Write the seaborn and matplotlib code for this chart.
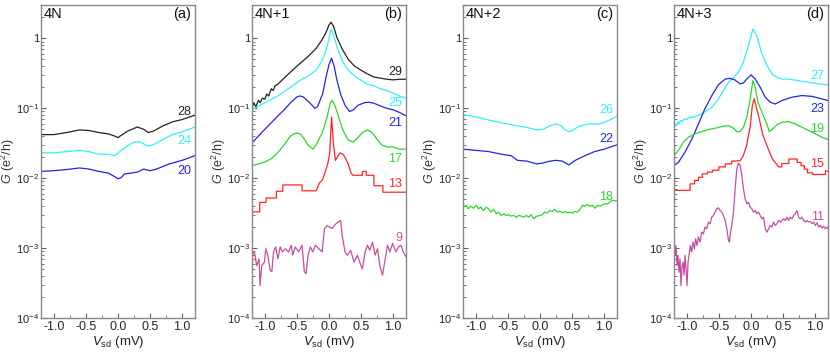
import numpy as np
import pandas as pd
import matplotlib
matplotlib.use("Agg")
import matplotlib.pyplot as plt
import matplotlib.transforms as mtransforms
from matplotlib.ticker import FixedLocator, FixedFormatter, MultipleLocator, LogLocator, NullFormatter, FormatStrFormatter
import seaborn as sns

# ---------------- data ----------------
# panel (a) 4N
a28_v = [-1.2,-1.0,-0.8,-0.6,-0.45,-0.3,-0.15,-0.05,0.0,0.05,0.15,0.3,0.4,0.47,0.55,0.7,0.85,1.0,1.2]
a28_g = [0.042,0.042,0.045,0.049,0.048,0.045,0.043,0.040,0.038,0.041,0.047,0.054,0.050,0.045,0.047,0.056,0.064,0.069,0.080]
a24_v = [-1.2,-1.0,-0.8,-0.6,-0.45,-0.3,-0.15,-0.05,0.05,0.15,0.25,0.35,0.45,0.55,0.7,0.85,1.0,1.2]
a24_g = [0.023,0.023,0.024,0.025,0.024,0.022,0.022,0.021,0.025,0.029,0.033,0.033,0.029,0.030,0.036,0.042,0.046,0.054]
a20_v = [-1.2,-1.0,-0.8,-0.6,-0.45,-0.3,-0.15,-0.05,0.0,0.05,0.1,0.2,0.3,0.4,0.5,0.6,0.8,1.0,1.2]
a20_g = [0.0125,0.0128,0.0133,0.014,0.0135,0.0125,0.0118,0.0105,0.0098,0.0102,0.0115,0.0118,0.0122,0.0135,0.0128,0.0135,0.016,0.018,0.021]

# panel (b) 4N+1
b29_v = [-1.2,-1.17,-1.14,-1.1,-1.07,-1.04,-1.0,-0.97,-0.94,-0.9,
         -0.87,-0.84,-0.8,-0.7,-0.6,-0.5,-0.4,-0.3,-0.2,-0.1,
         -0.05,0.0,0.03,0.07,0.12,0.2,0.3,0.4,0.5,0.6,
         0.7,0.8,0.9,1.0,1.1,1.2]
b29_g = [0.10,0.12,0.105,0.13,0.12,0.14,0.135,0.16,0.15,0.19,
         0.18,0.21,0.22,0.27,0.33,0.40,0.48,0.58,0.72,0.98,
         1.2,1.55,1.7,1.5,1.05,0.72,0.50,0.40,0.35,0.31,
         0.28,0.27,0.26,0.255,0.26,0.26]
b25_v = [-1.2,-1.0,-0.8,-0.6,-0.45,-0.3,-0.2,-0.1,-0.03,0.0,
         0.03,0.06,0.1,0.15,0.22,0.3,0.4,0.5,0.6,0.7,
         0.8,0.9,1.0,1.1,1.2]
b25_g = [0.095,0.12,0.15,0.20,0.25,0.30,0.35,0.5,0.75,1.0,
         1.35,1.2,0.9,0.65,0.45,0.35,0.29,0.25,0.22,0.21,
         0.19,0.18,0.165,0.15,0.14]
b21_v = [-1.2,-1.1,-1.0,-0.9,-0.8,-0.7,-0.6,-0.5,-0.45,-0.4,
         -0.3,-0.22,-0.18,-0.1,-0.05,0.0,0.04,0.08,0.12,0.18,
         0.25,0.32,0.38,0.45,0.55,0.62,0.7,0.8,0.9,1.0,
         1.1,1.2]
b21_g = [0.032,0.04,0.05,0.062,0.077,0.095,0.12,0.145,0.15,0.145,
         0.12,0.10,0.105,0.16,0.27,0.42,0.52,0.40,0.26,0.16,
         0.11,0.09,0.095,0.11,0.12,0.122,0.118,0.108,0.10,0.095,
         0.087,0.078]
b17_v = [-1.2,-1.1,-1.0,-0.9,-0.8,-0.7,-0.6,-0.55,-0.5,-0.45,
         -0.4,-0.33,-0.25,-0.2,-0.1,-0.03,0.02,0.05,0.1,0.15,
         0.22,0.3,0.38,0.45,0.52,0.6,0.67,0.75,0.82,0.9,
         1.0,1.1,1.2]
b17_g = [0.015,0.016,0.017,0.019,0.023,0.030,0.040,0.043,0.044,0.043,
         0.038,0.030,0.026,0.030,0.046,0.075,0.12,0.13,0.105,0.075,
         0.048,0.035,0.033,0.038,0.045,0.049,0.045,0.036,0.030,0.028,
         0.028,0.026,0.026]
b13_v = [-1.2,-1.08,-1.08,-0.98,-0.98,-0.82,-0.82,-0.72,-0.72,-0.42,
         -0.42,-0.2,-0.15,-0.1,-0.05,-0.02,0.01,0.04,0.07,0.1,
         0.13,0.17,0.22,0.26,0.3,0.34,0.37,0.52,0.52,0.58,
         0.58,0.7,0.7,0.84,0.84,1.2]
b13_g = [0.0033,0.0033,0.0045,0.0045,0.0052,0.0052,0.0065,0.0065,0.008,0.008,
         0.0066,0.0066,0.0085,0.0095,0.013,0.016,0.022,0.075,0.03,0.018,
         0.02,0.023,0.022,0.019,0.016,0.012,0.011,0.011,0.0125,0.0125,
         0.011,0.011,0.0078,0.0078,0.0063,0.0063]
b9_v = [-1.2,-1.163,-1.127,-1.09,-1.074,-1.048,-1.006,-0.985,-0.954,-0.917,
        -0.891,-0.865,-0.829,-0.797,-0.761,-0.724,-0.682,-0.63,-0.588,-0.567,
        -0.525,-0.473,-0.421,-0.384,-0.358,-0.327,-0.29,-0.253,-0.212,-0.159,
        -0.107,-0.07,-0.029,0.008,0.05,0.102,0.155,0.181,0.207,0.249,
        0.285,0.337,0.39,0.442,0.479,0.52,0.562,0.599,0.636,0.677,
        0.719,0.756,0.792,0.834,0.876,0.913,0.949,0.991,1.043,1.085,
        1.122,1.158,1.2]
b9_g = [0.00079,0.00088,0.00056,0.0007,0.00029,0.00056,0.00063,0.00098,0.00079,0.00048,
        0.00046,0.00088,0.00104,0.0007,0.00104,0.00088,0.00098,0.00088,0.0011,0.00079,
        0.00104,0.00088,0.0011,0.00046,0.00043,0.00079,0.00104,0.00088,0.0011,0.00098,
        0.00088,0.0019,0.0021,0.002,0.0019,0.0022,0.0024,0.00248,0.0015,0.00088,
        0.00079,0.00093,0.00063,0.00079,0.00063,0.0005,0.00088,0.0011,0.00093,0.00122,
        0.00079,0.00098,0.00056,0.00041,0.0007,0.0011,0.00088,0.00117,0.00088,0.00104,
        0.0011,0.00088,0.00075]

# panel (c) 4N+2
c26_v = [-1.2,-1.0,-0.8,-0.6,-0.4,-0.2,-0.05,0.05,0.15,0.25,0.32,0.38,0.45,0.52,0.6,0.7,0.8,0.9,1.0,1.1,1.2]
c26_g = [0.081,0.075,0.068,0.062,0.057,0.053,0.049,0.050,0.056,0.060,0.057,0.050,0.046,0.049,0.055,0.058,0.060,0.059,0.063,0.069,0.077]
c22_v = [-1.2,-1.0,-0.8,-0.6,-0.45,-0.35,-0.2,-0.05,0.05,0.15,0.25,0.35,0.45,0.55,0.7,0.85,1.0,1.2]
c22_g = [0.026,0.025,0.024,0.022,0.021,0.018,0.0175,0.016,0.0165,0.0175,0.018,0.0175,0.0155,0.018,0.021,0.024,0.026,0.030]
c18_v = [-1.2,-1.153,-1.116,-1.079,-1.038,-0.996,-0.959,-0.922,-0.881,-0.839,
         -0.802,-0.766,-0.724,-0.682,-0.645,-0.609,-0.567,-0.525,-0.489,-0.452,
         -0.41,-0.368,-0.332,-0.295,-0.253,-0.212,-0.175,-0.138,-0.096,-0.07,
         -0.044,-0.002,0.034,0.071,0.113,0.155,0.191,0.228,0.27,0.311,
         0.348,0.385,0.426,0.468,0.505,0.542,0.583,0.625,0.662,0.698,
         0.74,0.782,0.819,0.855,0.897,0.939,0.975,1.012,1.054,1.096,
         1.132,1.169,1.2]
c18_g = [0.00385,0.0041,0.00365,0.00398,0.00372,0.0041,0.00365,0.00385,0.00345,0.00385,
         0.00365,0.00327,0.00358,0.00309,0.00327,0.00293,0.00309,0.00293,0.003,0.00287,
         0.00293,0.00277,0.00293,0.00287,0.00277,0.00293,0.00277,0.003,0.00263,0.00277,
         0.00287,0.00293,0.003,0.00327,0.00316,0.00345,0.00333,0.00358,0.00327,0.00336,
         0.0032,0.00333,0.0032,0.00327,0.00316,0.00333,0.00327,0.00358,0.0041,0.00398,
         0.0042,0.00398,0.0041,0.00372,0.0041,0.00398,0.0042,0.0043,0.0043,0.00465,
         0.0048,0.00474,0.0048]

# panel (d) 4N+3
d27_v = [-1.2,-1.18,-1.16,-1.14,-1.12,-1.1,-1.07,-1.04,-1.0,-0.96,-0.92,
         -0.77,-0.61,-0.51,-0.43,-0.35,-0.27,-0.2,-0.12,-0.04,0.03,
         0.09,0.17,0.25,0.33,0.4,0.48,0.59,0.74,0.9,1.05,1.2]
d27_g = [0.0535,0.0597,0.0565,0.0645,0.0597,0.0667,0.0645,0.0704,0.069,0.074,0.0735,
         0.083,0.103,0.136,0.179,0.235,0.277,0.327,0.454,0.786,1.36,
         1.09,0.597,0.407,0.31,0.277,0.262,0.262,0.248,0.235,0.223,0.216]
d23_v = [-1.2,-1.13,-1.03,-0.92,-0.82,-0.72,-0.61,-0.51,-0.4,-0.33,
         -0.25,-0.17,-0.12,-0.065,0.0,0.066,0.143,0.222,0.3,0.378,
         0.482,0.638,0.795,0.951,1.107,1.2]
d23_g = [0.0152,0.0169,0.0235,0.0365,0.0597,0.0977,0.152,0.216,0.262,0.268,
         0.254,0.223,0.23,0.262,0.30,0.262,0.2,0.144,0.122,0.115,
         0.129,0.144,0.152,0.148,0.136,0.129]
d19_v = [-1.2,-1.132,-1.054,-0.976,-0.872,-0.768,-0.664,-0.56,-0.455,-0.351,
         -0.273,-0.221,-0.169,-0.117,-0.065,-0.013,0.029,0.066,0.107,0.17,
         0.248,0.284,0.326,0.404,0.482,0.586,0.69,0.795,0.899,1.003,
         1.107,1.2]
d19_g = [0.0211,0.0248,0.0327,0.0385,0.043,0.0464,0.0496,0.0518,0.0547,0.0565,
         0.0518,0.0464,0.0464,0.0536,0.0744,0.136,0.249,0.2,0.122,0.0877,
         0.0597,0.0464,0.0496,0.058,0.063,0.0646,0.0597,0.0536,0.048,0.043,
         0.0385,0.0357]
d15_v = [-1.2,-0.95,-0.95,-0.88,-0.88,-0.82,-0.82,-0.76,-0.76,-0.68,
         -0.68,-0.6,-0.6,-0.5,-0.5,-0.4,-0.4,-0.3,-0.3,-0.17,
         -0.12,-0.07,-0.01,0.02,0.05,0.09,0.13,0.18,0.25,0.33,
         0.43,0.48,0.48,0.59,0.59,0.72,0.72,0.78,0.78,0.83,
         0.83,0.88,0.88,0.96,0.96,1.16,1.16,1.2]
d15_g = [0.0067,0.0067,0.0083,0.0083,0.0093,0.0093,0.0103,0.0103,0.0115,0.0115,
         0.0122,0.0122,0.013,0.013,0.0145,0.0145,0.016,0.016,0.0175,0.0178,
         0.021,0.029,0.056,0.11,0.137,0.098,0.07,0.043,0.029,0.019,
         0.0145,0.0145,0.0162,0.0162,0.0188,0.0188,0.0168,0.0168,0.0151,0.0151,
         0.0135,0.0135,0.0119,0.0119,0.0113,0.0113,0.0128,0.0125]
d11_v = [-1.2,-1.184,-1.169,-1.153,-1.138,-1.122,-1.106,-1.091,-1.075,-1.06,
         -1.044,-1.028,-1.013,-0.997,-0.981,-0.966,-0.945,-0.924,-0.903,-0.882,
         -0.862,-0.841,-0.82,-0.794,-0.768,-0.742,-0.716,-0.69,-0.664,-0.638,
         -0.612,-0.586,-0.56,-0.533,-0.507,-0.481,-0.455,-0.429,-0.403,-0.377,
         -0.351,-0.336,-0.32,-0.299,-0.273,-0.247,-0.221,-0.195,-0.169,-0.143,
         -0.117,-0.091,-0.065,-0.039,-0.013,0.013,0.039,0.066,0.091,0.117,
         0.143,0.17,0.196,0.222,0.248,0.274,0.3,0.326,0.352,0.378,
         0.404,0.43,0.456,0.482,0.508,0.534,0.56,0.586,0.612,0.638,
         0.664,0.69,0.716,0.742,0.768,0.795,0.821,0.847,0.873,0.899,
         0.925,0.951,0.977,1.003,1.029,1.055,1.081,1.107,1.133,1.159,
         1.185,1.2]
d11_g = [0.00098,0.00079,0.00109,0.00056,0.00079,0.00045,0.0007,0.00029,0.00056,0.00063,
         0.00041,0.00079,0.00051,0.00029,0.00063,0.00079,0.00109,0.00088,0.00122,0.00098,
         0.00136,0.00109,0.00144,0.00122,0.00169,0.0016,0.002,0.00189,0.00235,0.00223,
         0.00277,0.00293,0.00327,0.00365,0.00377,0.00345,0.00327,0.00293,0.00248,0.00189,
         0.00129,0.00122,0.00169,0.00211,0.00327,0.00704,0.0136,0.0164,0.0152,0.0109,
         0.00704,0.00507,0.0043,0.00454,0.00385,0.00365,0.00327,0.00345,0.00309,0.00327,
         0.00293,0.00262,0.00277,0.00189,0.00169,0.00189,0.00211,0.002,0.00235,0.00211,
         0.00223,0.00248,0.00235,0.00248,0.00262,0.00248,0.00277,0.00248,0.00277,0.00262,
         0.00293,0.00309,0.00345,0.00277,0.00262,0.00277,0.00248,0.00235,0.00248,0.00235,
         0.0024,0.00223,0.00235,0.00211,0.0023,0.002,0.00211,0.00193,0.00206,0.00189,
         0.002,0.00189]

# curve labels (text, label height in G units)
panel_titles = ["4N", "4N+1", "4N+2", "4N+3"]
panel_letters = ["(a)", "(b)", "(c)", "(d)"]
a_labels = ["28", "24", "20"]; a_label_g = [0.088, 0.034, 0.0126]
b_labels = ["29", "25", "21", "17", "13", "9"]; b_label_g = [0.33, 0.12, 0.062, 0.019, 0.0083, 0.0014]
c_labels = ["26", "22", "18"]; c_label_g = [0.096, 0.036, 0.0054]
d_labels = ["27", "23", "19", "15", "11"]; d_label_g = [0.29, 0.098, 0.051, 0.016, 0.0028]

ytick_vals = [1e-4, 1e-3, 1e-2, 1e-1, 1]
ytick_text = [r"10$^{\mathregular{-4}}$", r"10$^{\mathregular{-3}}$", r"10$^{\mathregular{-2}}$",
              r"10$^{\mathregular{-1}}$", "1"]
xtick_vals = [-1.0, -0.5, 0.0, 0.5, 1.0]

# ---------------- style ----------------
sns.set_style("ticks")
plt.rcParams['font.family'] = ['Liberation Sans', 'DejaVu Sans']
plt.rcParams['mathtext.fontset'] = 'custom'
plt.rcParams['mathtext.rm'] = 'Liberation Sans'
plt.rcParams['mathtext.it'] = 'Liberation Sans:italic'
plt.rcParams['mathtext.bf'] = 'Liberation Sans:bold'
plt.rcParams['axes.unicode_minus'] = False

BLACK = '#222222'; CYAN = '#2ef0fa'; BLUE = '#2323e6'; GREEN = '#28d828'
RED = '#ff2424'; MAG = '#c44f9f'
SPINE = '#888888'

panels = [
    ([(a28_v, a28_g, BLACK), (a24_v, a24_g, CYAN), (a20_v, a20_g, BLUE)],
     list(zip(a_labels, a_label_g, [BLACK, CYAN, BLUE]))),
    ([(b29_v, b29_g, BLACK), (b25_v, b25_g, CYAN), (b21_v, b21_g, BLUE),
      (b17_v, b17_g, GREEN), (b13_v, b13_g, RED), (b9_v, b9_g, MAG)],
     list(zip(b_labels, b_label_g, [BLACK, CYAN, BLUE, GREEN, RED, MAG]))),
    ([(c26_v, c26_g, CYAN), (c22_v, c22_g, BLUE), (c18_v, c18_g, GREEN)],
     list(zip(c_labels, c_label_g, [CYAN, BLUE, GREEN]))),
    ([(d27_v, d27_g, CYAN), (d23_v, d23_g, BLUE), (d19_v, d19_g, GREEN),
      (d15_v, d15_g, RED), (d11_v, d11_g, MAG)],
     list(zip(d_labels, d_label_g, [CYAN, BLUE, GREEN, RED, MAG]))),
]

fig = plt.figure(figsize=(8.3, 3.54), dpi=100)
lefts = [41, 252, 463, 674]
W, H = 830.0, 354.0
for i, (curves, labels) in enumerate(panels):
    ax = fig.add_axes([lefts[i] / W, 36 / H, 154 / W, 313 / H])
    ax.set_yscale('log')
    for v, g, col in curves:
        sns.lineplot(x=v, y=g, ax=ax, color=col, lw=0.9, estimator=None,
                     sort=False, legend=False)
    ax.set_xlim(-1.2, 1.2)
    ax.set_ylim(1e-4, 3.0)
    ax.yaxis.set_major_locator(FixedLocator(ytick_vals))
    ax.yaxis.set_major_formatter(FixedFormatter(ytick_text))
    ax.yaxis.set_minor_locator(LogLocator(base=10, subs=np.arange(2, 10), numticks=20))
    ax.yaxis.set_minor_formatter(NullFormatter())
    ax.xaxis.set_major_locator(FixedLocator(xtick_vals))
    ax.xaxis.set_major_formatter(FormatStrFormatter('%.1f'))
    ax.xaxis.set_minor_locator(MultipleLocator(0.25))
    ax.tick_params(which='both', direction='in', color='#606060', top=False, right=False)
    ax.tick_params(which='major', length=3.5, width=0.8, labelsize=9, pad=2)
    ax.tick_params(axis='y', which='major', labelsize=8, pad=1.5)
    ax.tick_params(which='minor', length=2, width=0.6)
    for sp in ax.spines.values():
        sp.set_color(SPINE)
        sp.set_linewidth(1.0)
        sp.set_visible(True)
    ax.set_ylabel(r"$G$ (e$^{2}$/h)", fontsize=9, color='#333333', va='center')
    ax.yaxis.set_label_coords(-0.212, 0.5)
    ax.set_xlabel(r"$V_{\mathregular{sd}}$ (mV)", fontsize=9.5, labelpad=1, color='#222222')
    ax.text(0.02, 0.995, panel_titles[i], transform=ax.transAxes, ha='left', va='top',
            fontsize=10.5, color='#111111')
    ax.text(0.975, 0.995, panel_letters[i], transform=ax.transAxes, ha='right', va='top',
            fontsize=10.5, color='#111111')
    trans = mtransforms.blended_transform_factory(ax.transAxes, ax.transData)
    for txt, gy, col in labels:
        ax.text(0.975, gy, txt, transform=trans, ha='right', va='center',
                fontsize=9, color=col)

fig.savefig("out.png", dpi=100)
